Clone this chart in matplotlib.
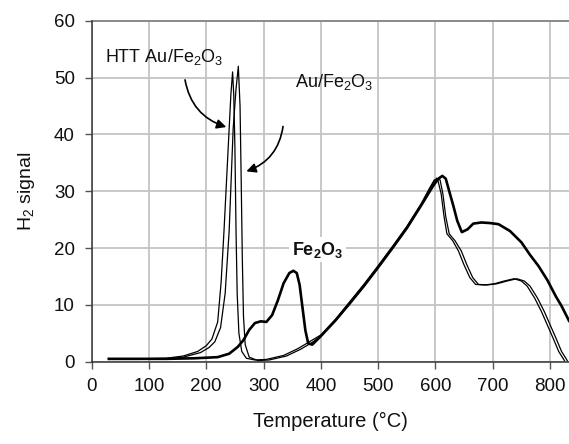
import matplotlib
matplotlib.use("Agg")
import matplotlib.pyplot as plt

plt.rcParams['font.family'] = ['Liberation Sans', 'DejaVu Sans']
plt.rcParams['mathtext.fontset'] = 'custom'
plt.rcParams['mathtext.rm'] = 'Liberation Sans'
plt.rcParams['mathtext.it'] = 'Liberation Sans:italic'
plt.rcParams['mathtext.bf'] = 'Liberation Sans:bold'

# Fe2O3
T_fe = [30, 80, 130, 180, 220, 240, 255, 265, 275, 285,
        295, 305, 315, 325, 335, 345, 352, 358, 363, 368,
        373, 378, 385, 400, 425, 450, 475, 500, 525, 550,
        575, 595, 605, 612, 618, 624, 631, 638, 646, 656,
        666, 680, 695, 710, 730, 750, 765, 780, 795, 810,
        820, 833]
H_fe = [0.5, 0.5, 0.5, 0.6, 0.8, 1.4, 2.6, 3.8, 5.6, 6.8,
        7.1, 7.0, 8.2, 10.8, 13.8, 15.6, 16.0, 15.6, 13.5, 9.5,
        5.5, 3.2, 3.0, 4.5, 7.2, 10.2, 13.3, 16.6, 20.0, 23.5,
        27.5, 30.8, 32.2, 32.7, 32.2, 30.0, 27.5, 24.8, 22.8, 23.3,
        24.3, 24.5, 24.4, 24.2, 23.0, 21.0, 18.8, 16.8, 14.4, 11.5,
        9.8, 7.2]

# Au/Fe2O3
T_au = [30, 80, 130, 160, 190, 205, 215, 225, 233, 240,
        247, 252, 256, 259, 261, 263, 265, 268, 275, 290,
        310, 340, 365, 385, 400, 425, 450, 475, 500, 525,
        550, 575, 592, 602, 608, 613, 618, 624, 634, 645,
        655, 665, 675, 690, 707, 725, 742, 755, 765, 778,
        790, 800, 810, 820, 830]
H_au = [0.4, 0.4, 0.5, 0.8, 1.6, 2.5, 3.5, 6, 12, 23,
        41, 48, 52, 45, 32, 18, 8, 3, 0.8, 0.2,
        0.3, 1.0, 2.2, 3.4, 4.5, 7.2, 10.2, 13.3, 16.6, 20,
        23.5, 27.5, 30.8, 32.3, 32.0, 29.5, 25.5, 22.5, 21.3, 19.5,
        17.0, 14.8, 13.6, 13.5, 13.7, 14.2, 14.6, 14.2, 13.3, 11.2,
        8.8, 6.5, 4.2, 1.8, 0.2]

# HTT Au/Fe2O3
T_htt = [30, 80, 130, 160, 185, 200, 210, 220, 226, 231,
         236, 240, 243, 246, 248, 250, 252, 254, 257, 262,
         270, 285, 305, 335, 360, 380, 400, 425, 450, 475,
         500, 525, 550, 575, 590, 598, 604, 610, 615, 620,
         630, 640, 650, 660, 670, 685, 702, 720, 737, 750,
         760, 773, 785, 795, 805, 815, 825]
H_htt = [0.4, 0.5, 0.6, 1.0, 1.8, 2.8, 4, 7, 14, 23,
         33, 41, 47, 51, 47, 38, 23, 12, 5, 1.8,
         0.6, 0.3, 0.4, 1.1, 2.3, 3.5, 4.7, 7.4, 10.5, 13.6,
         16.9, 20.3, 23.8, 27.8, 30.6, 32.0, 32.0, 29.5, 25.5, 22.5,
         21.3, 19.5, 17.0, 14.8, 13.6, 13.5, 13.7, 14.2, 14.6, 14.2,
         13.3, 11.2, 8.8, 6.5, 4.2, 1.8, 0.2]

x_ticks = [0, 100, 200, 300, 400, 500, 600, 700, 800]
y_ticks = [0, 10, 20, 30, 40, 50, 60]

fig = plt.figure(figsize=(5.69, 4.44), dpi=100)
ax = fig.add_axes([0.161, 0.1854, 0.839, 0.7678])

ax.set_xlim(0, 833)
ax.set_ylim(0, 60)
ax.set_xticks(x_ticks)
ax.set_yticks(y_ticks)
ax.grid(True, color='#c4c4c4', linewidth=1.3, zorder=0)
ax.set_axisbelow(True)

for s in ['top', 'right']:
    ax.spines[s].set_visible(False)
ax.spines['left'].set_color('#333333')
ax.spines['bottom'].set_color('#333333')
ax.spines['left'].set_linewidth(1.1)
ax.spines['bottom'].set_linewidth(1.1)
ax.axhline(60, color='#8a8a8a', linewidth=1.4, zorder=1, clip_on=False)

ax.tick_params(axis='both', direction='out', length=5, width=1, color='#555555',
               labelsize=13.5, colors='#111111')
ax.tick_params(axis='y', pad=7)
ax.tick_params(axis='x', pad=7)

ax.plot(T_htt, H_htt, color='black', linewidth=0.9, zorder=3)
ax.plot(T_au, H_au, color='black', linewidth=0.9, zorder=3)
ax.plot(T_fe, H_fe, color='black', linewidth=1.9, zorder=4)

ax.set_xlabel('Temperature (°C)', fontsize=14.5, labelpad=12, color='#111111')
ax.set_ylabel('H$_2$ signal', fontsize=14, labelpad=12, color='#111111')

ax.text(23, 53.6, 'HTT Au/Fe$_2$O$_3$', fontsize=13, va='center', ha='left', color='#111111')
ax.text(355, 49.2, 'Au/Fe$_2$O$_3$', fontsize=13, va='center', ha='left', color='#111111')
ax.text(394, 19.7, r'$\mathbf{Fe_2O_3}$', fontsize=13, va='center', ha='center', color='#111111',
        bbox=dict(boxstyle='square,pad=0.15', fc='white', ec='none'), zorder=5)

ax.annotate('', xy=(235, 41.3), xytext=(163, 49.6),
            arrowprops=dict(arrowstyle='-|>', color='black', lw=1.2, mutation_scale=14,
                            connectionstyle='arc3,rad=0.3', shrinkA=0, shrinkB=0))
ax.annotate('', xy=(270, 33.5), xytext=(334, 41.4),
            arrowprops=dict(arrowstyle='-|>', color='black', lw=1.2, mutation_scale=14,
                            connectionstyle='arc3,rad=-0.3', shrinkA=0, shrinkB=0))

fig.savefig('out.png', dpi=100)
